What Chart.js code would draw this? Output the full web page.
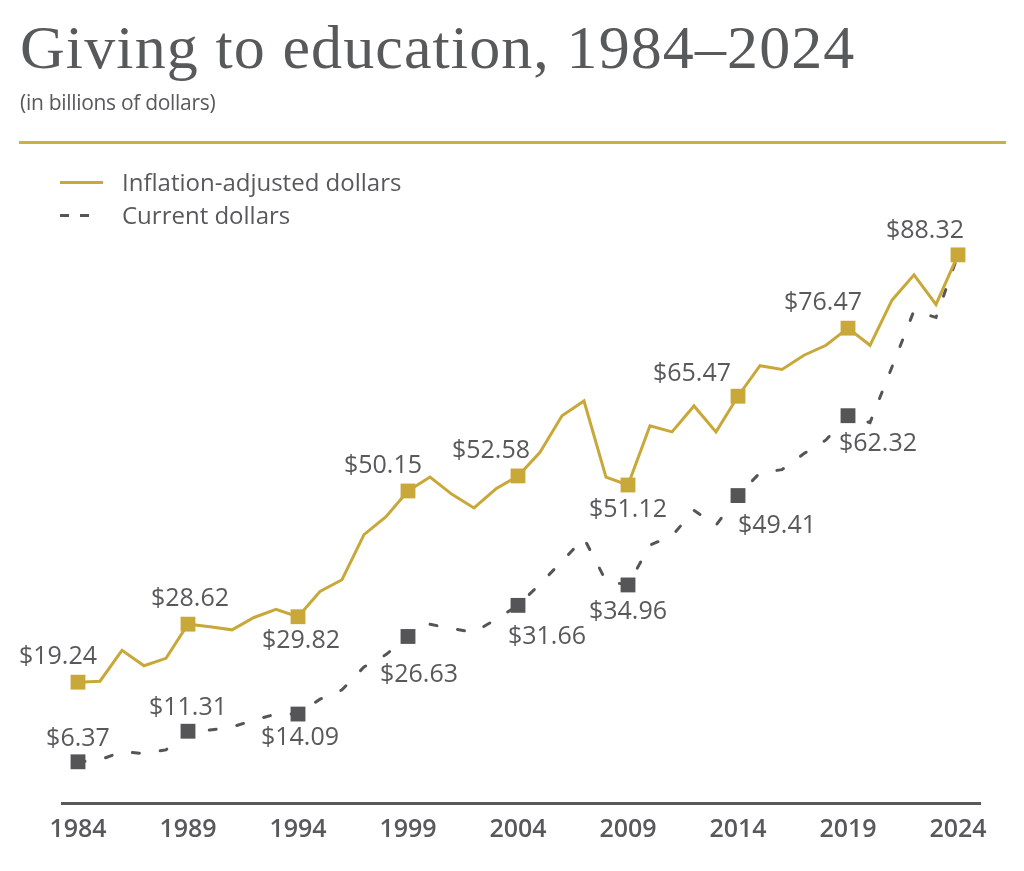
<!DOCTYPE html>
<html>
<head>
<meta charset="utf-8">
<script src="https://cdn.jsdelivr.net/npm/chart.js@4.4.1/dist/chart.umd.min.js"></script>
<style>
  html, body { margin: 0; padding: 0; background: #fff; }
  body { width: 1024px; height: 871px; position: relative; overflow: hidden; }
  #chart { position: absolute; left: 0; top: 0; }
  .title {
    position: absolute; left: 20px; top: 16px;
    font: 62px/62px 'Liberation Serif', serif; letter-spacing: 1.1px;
    color: #58595b; white-space: nowrap;
  }
  .subtitle {
    position: absolute; left: 20px; top: 92px;
    font: 21px/21px 'Open Sans', sans-serif; color: #58595b; letter-spacing: -0.3px;
  }
  .rule { position: absolute; left: 19px; top: 141px; width: 987px; height: 3px; background: #cfae45; }
  .legend-item {
    position: absolute; left: 122px;
    font: 24px/24px 'Open Sans', sans-serif; color: #58595b; white-space: nowrap;
  }
  .swatch { position: absolute; height: 3px; }
</style>
</head>
<body>
<canvas id="chart" width="1024" height="871"></canvas>
<div class="title">Giving to education, 1984–2024</div>
<div class="subtitle">(in billions of dollars)</div>
<div class="rule"></div>
<div class="swatch" style="left:60px;top:181px;width:43px;background:#c9a83a"></div>
<div class="legend-item" style="top:170px">Inflation-adjusted dollars</div>
<div class="swatch" style="left:60px;top:214px;width:9px;background:#555558"></div>
<div class="swatch" style="left:80px;top:214px;width:9px;background:#555558"></div>
<div class="legend-item" style="top:203px">Current dollars</div>

<script>
const years = [
  1984, 1985, 1986, 1987, 1988, 1989, 1990, 1991, 1992, 1993,
  1994, 1995, 1996, 1997, 1998, 1999, 2000, 2001, 2002, 2003,
  2004, 2005, 2006, 2007, 2008, 2009, 2010, 2011, 2012, 2013,
  2014, 2015, 2016, 2017, 2018, 2019, 2020, 2021, 2022, 2023, 2024,
]
const inflationAdjusted = [
  19.24, 19.4, 24.4, 21.9, 23.1, 28.62, 28.2, 27.7, 29.7, 31.0,
  29.82, 33.9, 35.8, 43.1, 46.0, 50.15, 52.4, 49.6, 47.4, 50.5,
  52.58, 56.4, 62.3, 64.7, 52.4, 51.12, 60.7, 59.7, 63.9, 59.7,
  65.47, 70.4, 69.8, 72.1, 73.7, 76.47, 73.7, 81.0, 85.1, 80.3, 88.32,
]
const currentDollars = [
  6.37, 6.7, 8.0, 7.7, 8.3, 11.31, 11.5, 12.0, 13.1, 14.1,
  14.09, 16.5, 18.0, 21.7, 23.7, 26.63, 28.6, 27.9, 27.3, 29.4,
  31.66, 35.1, 38.8, 42.5, 35.6, 34.96, 41.4, 42.9, 47.0, 44.6,
  49.41, 53.1, 53.6, 56.2, 58.4, 62.32, 61.2, 70.2, 79.3, 78.2, 88.32,
]
const inflationMarkerYears = [1984, 1989, 1994, 1999, 2004, 2009, 2014, 2019, 2024]
const inflationMarkers = [19.24, 28.62, 29.82, 50.15, 52.58, 51.12, 65.47, 76.47, 88.32]
const currentMarkerYears = [1984, 1989, 1994, 1999, 2004, 2009, 2014, 2019]
const currentMarkers = [6.37, 11.31, 14.09, 26.63, 31.66, 34.96, 49.41, 62.32]
const tickYears = [1984, 1989, 1994, 1999, 2004, 2009, 2014, 2019, 2024]

const GOLD = '#c9a83a'
const GRAY = '#555558'
const TEXT = '#58595b'

// label offsets from each marker, in pixels
const goldLabelOffsets = [[-20, -25], [2, -25], [3, 24], [-25, -25], [-27, -25], [0, 25], [-46, -22], [-25, -25], [-33, -24]]
const grayLabelOffsets = [[0, -23], [0, -23], [2, 24], [11, 38], [29, 32], [0, 27], [39, 30], [30, 28]]

const pairs = (xs, ys) => xs.map((x, i) => ({ x, y: ys[i] }))

const markerLabels = {
  id: 'markerLabels',
  afterDatasetsDraw(chart) {
    const ctx = chart.ctx
    ctx.save()
    ctx.font = '25px "Open Sans", sans-serif'
    ctx.fillStyle = TEXT
    ctx.textAlign = 'center'
    ctx.textBaseline = 'middle'
    const sets = [[2, inflationMarkers, goldLabelOffsets], [3, currentMarkers, grayLabelOffsets]]
    sets.forEach(([idx, values, offsets]) => {
      chart.getDatasetMeta(idx).data.forEach((pt, i) => {
        const [dx, dy] = offsets[i]
        ctx.fillText('$' + values[i].toFixed(2), pt.x + dx, pt.y + dy)
      })
    })
    ctx.restore()
  },
}

new Chart(document.getElementById('chart'), {
  type: 'line',
  data: {
    datasets: [
      {
        label: 'Inflation-adjusted dollars',
        data: pairs(years, inflationAdjusted),
        borderColor: GOLD,
        borderWidth: 3,
        pointRadius: 0,
        tension: 0,
        order: 1,
      },
      {
        label: 'Current dollars',
        data: pairs(years, currentDollars),
        borderColor: GRAY,
        borderWidth: 3,
        borderDash: [7, 21],
        borderCapStyle: 'round',
        pointRadius: 0,
        tension: 0,
        order: 2,
      },
      {
        data: pairs(inflationMarkerYears, inflationMarkers),
        showLine: false,
        pointStyle: 'rect',
        pointRadius: 10.5,
        pointBorderWidth: 0,
        pointBackgroundColor: GOLD,
        clip: false,
        order: 0,
      },
      {
        data: pairs(currentMarkerYears, currentMarkers),
        showLine: false,
        pointStyle: 'rect',
        pointRadius: 10.5,
        pointBorderWidth: 0,
        pointBackgroundColor: GRAY,
        clip: false,
        order: 0,
      },
    ],
  },
  options: {
    responsive: false,
    animation: false,
    events: [],
    layout: { padding: { left: 62, right: 44, top: 230, bottom: 0 } },
    plugins: { legend: { display: false }, tooltip: { enabled: false } },
    scales: {
      x: {
        type: 'linear',
        min: 1983.273,
        max: 2025,
        afterBuildTicks: (scale) => { scale.ticks = tickYears.map(v => ({ value: v })) },
        afterFit: (scale) => { scale.height = 68 },
        grid: { display: false, drawTicks: false },
        border: { display: true, color: TEXT, width: 3 },
        ticks: {
          padding: 12,
          color: TEXT,
          font: { family: 'Open Sans', size: 25, weight: '600' },
          callback: (v) => String(v),
        },
      },
      y: {
        display: false,
        min: -0.29,
        max: 92.34,
      },
    },
  },
  plugins: [markerLabels],
})
</script>
</body>
</html>
